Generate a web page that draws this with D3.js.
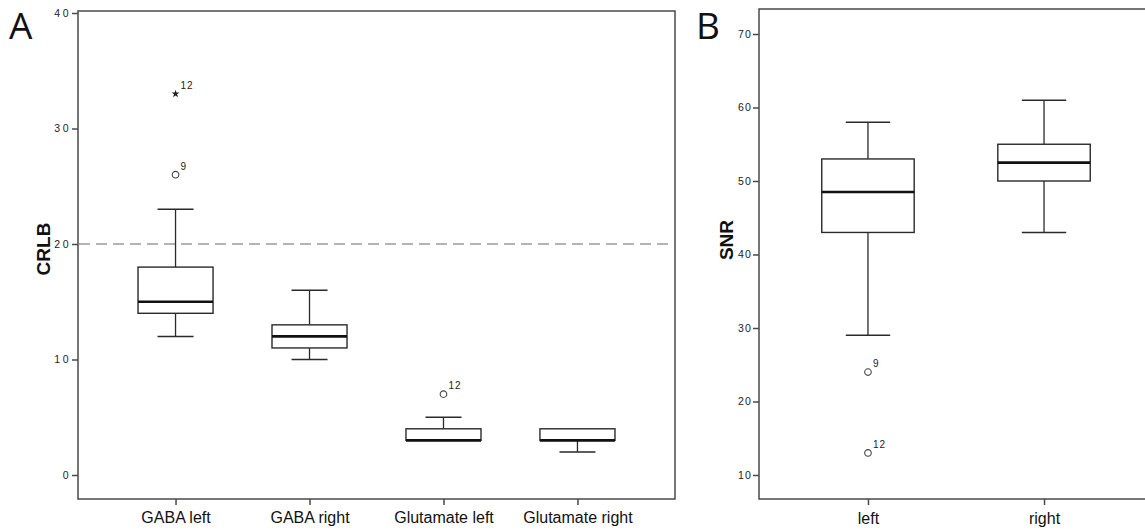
<!DOCTYPE html>
<html>
<head>
<meta charset="utf-8">
<script src="https://cdn.jsdelivr.net/npm/d3@7"></script>
<style>
  html, body { margin: 0; padding: 0; background: #fff; }
  svg { display: block; }
</style>
</head>
<body>
<svg id="chart" width="1145" height="530"></svg>
<script>
// ---------- Data ----------
const crlbCategories = ["GABA left", "GABA right", "Glutamate left", "Glutamate right"];
const crlbWhiskerLow = [12, 10, 3, 2];
const crlbQ1 = [14, 11, 3, 3];
const crlbMedian = [15, 12, 3, 3];
const crlbQ3 = [18, 13, 4, 4];
const crlbWhiskerHigh = [23, 16, 5, 4];
const crlbOutlierCats = ["GABA left", "GABA left", "Glutamate left"];
const crlbOutlierValues = [26, 33, 7];
const crlbOutlierIds = ["9", "12", "12"];
const crlbOutlierKinds = ["circle", "star", "circle"];
const crlbTicks = [0, 10, 20, 30, 40];
const crlbThreshold = 20;

const snrCategories = ["left", "right"];
const snrWhiskerLow = [29, 43];
const snrQ1 = [43, 50];
const snrMedian = [48.5, 52.5];
const snrQ3 = [53, 55];
const snrWhiskerHigh = [58, 61];
const snrOutlierCats = ["left", "left"];
const snrOutlierValues = [24, 13];
const snrOutlierIds = ["9", "12"];
const snrOutlierKinds = ["circle", "circle"];
const snrTicks = [10, 20, 30, 40, 50, 60, 70];

// ---------- Helpers ----------
const svg = d3.select("#chart");
const AXIS = "#4a4a4a";
const INK = "#2a2a2a";

function panel(cfg) {
  const g = svg.append("g");
  const { left, right, top, bottom } = cfg.frame;
  const x = d3.scalePoint().domain(cfg.categories).range([left, right]).padding(cfg.pad);
  const y = d3.scaleLinear().domain(cfg.yDomain).range(cfg.yRange);
  const boxW = x.step() * cfg.boxFrac;
  const capW = boxW * 0.48;

  // frame
  g.append("rect")
    .attr("x", left).attr("y", top)
    .attr("width", right - left).attr("height", bottom - top)
    .attr("fill", "none").attr("stroke", AXIS).attr("stroke-width", 1.5);

  // y axis
  const yAxis = d3.axisLeft(y).tickValues(cfg.ticks).tickSize(6).tickPadding(1).tickFormat(d3.format("d"));
  const ya = g.append("g").attr("transform", `translate(${left},0)`).call(yAxis);
  ya.select(".domain").remove();
  ya.selectAll(".tick line").attr("stroke", AXIS).attr("stroke-width", 1.5);
  ya.selectAll(".tick text")
    .attr("fill", "#222")
    .style("font-family", "'Liberation Sans', Arial, sans-serif")
    .style("font-size", "10.5px")
    .style("letter-spacing", cfg.tickSpacing + "px");

  // x axis
  const xAxis = d3.axisBottom(x).tickSize(6).tickPadding(6);
  const xa = g.append("g").attr("transform", `translate(0,${bottom})`).call(xAxis);
  xa.select(".domain").remove();
  xa.selectAll(".tick line").attr("stroke", AXIS).attr("stroke-width", 1.5);
  xa.selectAll(".tick text")
    .attr("fill", "#111")
    .attr("y", 0).attr("dy", 0)
    .attr("transform", `translate(0,${cfg.xLabelBaseline - bottom})`)
    .style("font-family", "'Liberation Sans', Arial, sans-serif")
    .style("font-size", "16px");

  // threshold line
  if (cfg.threshold !== undefined) {
    g.append("line")
      .attr("x1", left + 1).attr("x2", right - 1)
      .attr("y1", y(cfg.threshold)).attr("y2", y(cfg.threshold))
      .attr("stroke", "#9a9a9a").attr("stroke-width", 1.4)
      .attr("stroke-dasharray", "11,6");
  }

  // boxes
  const rows = cfg.categories.map((c, i) => ({
    c, lo: cfg.wl[i], q1: cfg.q1[i], med: cfg.med[i], q3: cfg.q3[i], hi: cfg.wh[i]
  }));
  const bg = g.selectAll(".box").data(rows).enter().append("g").attr("class", "box");
  bg.filter(d => d.hi > d.q3).append("line")
    .attr("x1", d => x(d.c)).attr("x2", d => x(d.c))
    .attr("y1", d => y(d.q3)).attr("y2", d => y(d.hi))
    .attr("stroke", INK).attr("stroke-width", 1.3);
  bg.filter(d => d.hi > d.q3).append("line")
    .attr("x1", d => x(d.c) - capW / 2).attr("x2", d => x(d.c) + capW / 2)
    .attr("y1", d => y(d.hi)).attr("y2", d => y(d.hi))
    .attr("stroke", INK).attr("stroke-width", 1.5);
  bg.filter(d => d.lo < d.q1).append("line")
    .attr("x1", d => x(d.c)).attr("x2", d => x(d.c))
    .attr("y1", d => y(d.q1)).attr("y2", d => y(d.lo))
    .attr("stroke", INK).attr("stroke-width", 1.3);
  bg.filter(d => d.lo < d.q1).append("line")
    .attr("x1", d => x(d.c) - capW / 2).attr("x2", d => x(d.c) + capW / 2)
    .attr("y1", d => y(d.lo)).attr("y2", d => y(d.lo))
    .attr("stroke", INK).attr("stroke-width", 1.5);
  bg.append("rect")
    .attr("x", d => x(d.c) - boxW / 2).attr("width", boxW)
    .attr("y", d => y(d.q3)).attr("height", d => y(d.q1) - y(d.q3))
    .attr("fill", "#fff").attr("stroke", INK).attr("stroke-width", 1.4);
  bg.append("line")
    .attr("x1", d => x(d.c) - boxW / 2).attr("x2", d => x(d.c) + boxW / 2)
    .attr("y1", d => y(d.med)).attr("y2", d => y(d.med))
    .attr("stroke", "#111").attr("stroke-width", 2.6);

  // outliers
  const outs = cfg.oCats.map((c, i) => ({ c, v: cfg.oVals[i], id: cfg.oIds[i], kind: cfg.oKinds[i] }));
  const og = g.selectAll(".out").data(outs).enter().append("g")
    .attr("transform", d => `translate(${x(d.c)},${y(d.v)})`);
  og.filter(d => d.kind === "circle").append("circle")
    .attr("r", 3.3).attr("fill", "#fff").attr("stroke", "#444").attr("stroke-width", 1.1);
  og.filter(d => d.kind === "star").append("path")
    .attr("d", d3.symbol().type(d3.symbolStar).size(20))
    .attr("fill", "#222");
  og.append("text")
    .attr("x", 5).attr("y", -5)
    .attr("fill", "#222")
    .style("font-family", "'Liberation Sans', Arial, sans-serif")
    .style("font-size", "10px")
    .style("letter-spacing", "1px")
    .text(d => d.id);

  // y label
  g.append("text")
    .attr("transform", `translate(${cfg.yLabelX},${cfg.yLabelY}) rotate(-90)`)
    .attr("text-anchor", "middle")
    .attr("fill", "#111")
    .style("font-family", "'Liberation Sans', Arial, sans-serif")
    .style("font-weight", "bold")
    .style("font-size", "19px")
    .text(cfg.yLabel);

  // panel letter
  g.append("text")
    .attr("x", cfg.letterX).attr("y", 39)
    .attr("fill", "#111")
    .style("font-family", "'Open Sans', 'Liberation Sans', sans-serif")
    .style("font-size", "37px")
    .text(cfg.letter);
}

panel({
  frame: { left: 78, right: 675, top: 11, bottom: 499 },
  categories: crlbCategories, pad: 0.728, boxFrac: 0.56,
  yDomain: [0, 40], yRange: [475, 13], ticks: crlbTicks, tickSpacing: 2.5,
  wl: crlbWhiskerLow, q1: crlbQ1, med: crlbMedian, q3: crlbQ3, wh: crlbWhiskerHigh,
  oCats: crlbOutlierCats, oVals: crlbOutlierValues, oIds: crlbOutlierIds, oKinds: crlbOutlierKinds,
  threshold: crlbThreshold,
  xLabelBaseline: 523,
  yLabel: "CRLB", yLabelX: 50, yLabelY: 249,
  letter: "A", letterX: 9
});

panel({
  frame: { left: 759, right: 1153, top: 9, bottom: 499 },
  categories: snrCategories, pad: 0.619, boxFrac: 0.525,
  yDomain: [10, 70], yRange: [475, 34], ticks: snrTicks, tickSpacing: 1.2,
  wl: snrWhiskerLow, q1: snrQ1, med: snrMedian, q3: snrQ3, wh: snrWhiskerHigh,
  oCats: snrOutlierCats, oVals: snrOutlierValues, oIds: snrOutlierIds, oKinds: snrOutlierKinds,
  xLabelBaseline: 524,
  yLabel: "SNR", yLabelX: 733, yLabelY: 240,
  letter: "B", letterX: 696
});
</script>
</body>
</html>
